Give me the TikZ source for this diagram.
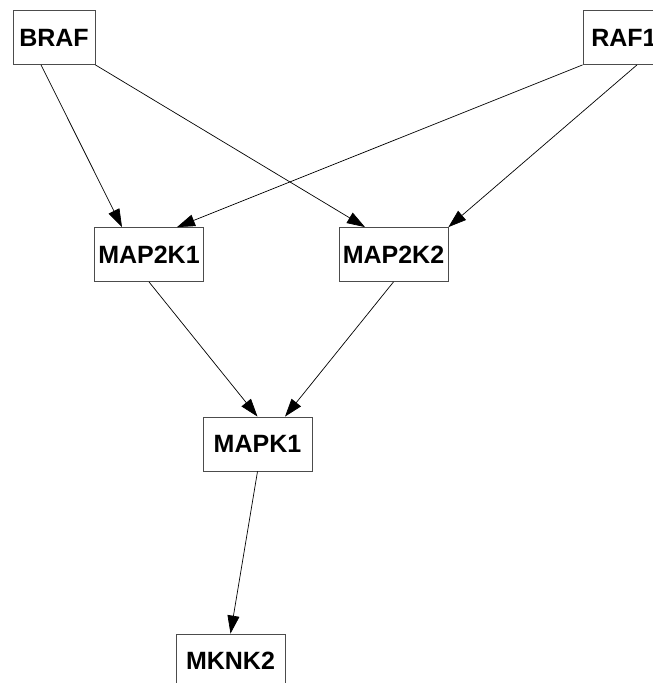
\documentclass[tikz,border=0pt]{standalone}
\usepackage{fontspec}
\setmainfont{Liberation Sans}
\usetikzlibrary{arrows.meta, calc}

\begin{document}
\begin{tikzpicture}[x=1pt, y=-1pt]
	\tikzstyle{gene} = [
	draw=black!70,
	line width=.8pt,
	fill=white,
	rectangle,
	minimum width=109pt,
	minimum height=54pt,
	inner sep=0pt,
	font=\fontsize{25}{30}\selectfont\bfseries
	]
	\tikzstyle{link} = [line width=.7pt, -{Triangle[length=18pt, width=12pt]}]
	
	\useasboundingbox (0,0) rectangle (653,683);
	
	\node[gene, minimum width=82pt] (braf) at (54,37.5) {BRAF};
	\node[gene, minimum width=82pt] (raf1) at (624,37.5) {RAF1};
	\node[gene] (map2k1) at (149,254.5) {MAP2K1};
	\node[gene] (map2k2) at (393.5,254.5) {MAP2K2};
	\node[gene] (mapk1) at (257.5,444) {MAPK1};
	\node[gene] (mknk2) at (230.5,661) {MKNK2};
	
	\draw[link] ([xshift=-13pt]braf.south) to ([xshift=-27pt]map2k1.north);
	\draw[link] (braf.south east) to ([xshift=-28.5pt]map2k2.north);
	\draw[link] (raf1.south west) to ([xshift=28pt]map2k1.north);
	\draw[link] ([xshift=13pt]raf1.south) to (map2k2.north east);
	\draw[link] (map2k1.south) to (mapk1.north);
	\draw[link] (map2k2.south) to ([xshift=27.5pt]mapk1.north);
	\draw[link] (mapk1.south) to (mknk2.north);
	
	%	\node [below=of mknk2] {};
\end{tikzpicture}
\end{document}
